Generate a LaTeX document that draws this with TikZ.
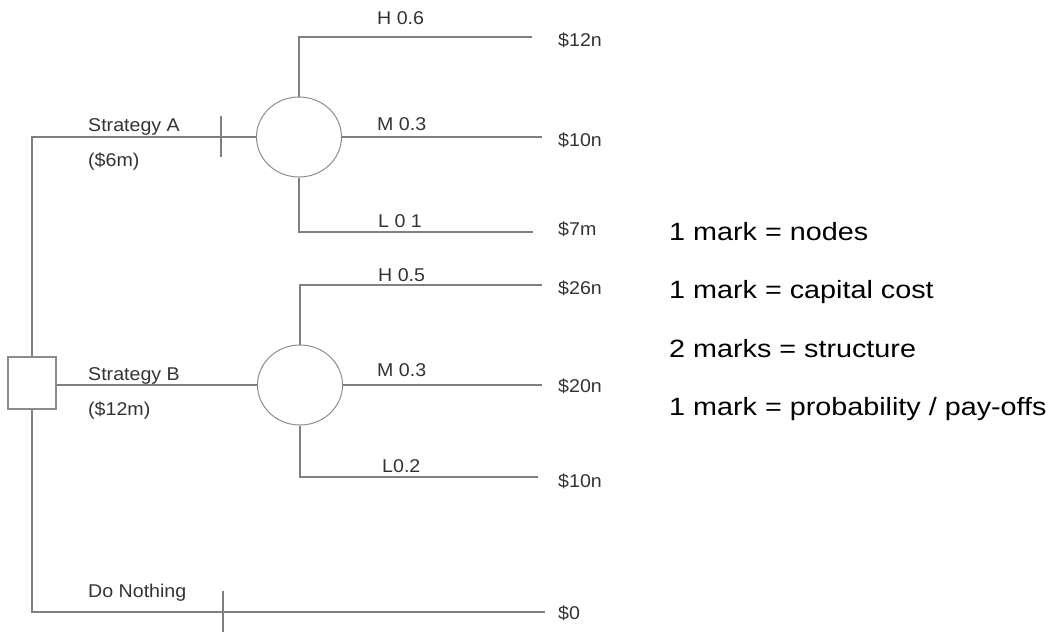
\documentclass[tikz,border=0pt]{standalone}
\usepackage{fontspec}
\setmainfont{Liberation Sans}
\newfontfamily\labfont[FakeStretch=1.06]{Liberation Sans}
\newfontfamily\notefont[FakeStretch=1.15]{Liberation Sans}
\usetikzlibrary{shapes.geometric}
\begin{document}
\begin{tikzpicture}[x=1pt,y=-1pt,
  branch/.style={draw=black!50, line width=1.3pt},
  chance/.style={ellipse, draw=black!45, line width=1pt, minimum width=85pt, minimum height=80pt, inner sep=0pt},
  decision/.style={rectangle, draw=black!45, line width=1.3pt, minimum width=48pt, minimum height=52pt, inner sep=0pt},
  lab/.style={anchor=base west, inner sep=0pt, text=black!80, font=\labfont\fontsize{18.5}{20}\selectfont},
  note/.style={anchor=base west, inner sep=0pt, text=black, font=\notefont\fontsize{25}{28}\selectfont}]
\useasboundingbox (0,0) rectangle (1059,632);

% nodes
\node[decision] (dec) at (32,383) {};
\node[chance] (ca) at (299,137) {};
\node[chance] (cb) at (300,385) {};

% branch end points
\coordinate (eAH) at (532,37);
\coordinate (eAM) at (542,137);
\coordinate (eAL) at (533,232);
\coordinate (eBH) at (542,285);
\coordinate (eBM) at (542,385);
\coordinate (eBL) at (538,477);
\coordinate (eN) at (545,612);
\coordinate (tA) at (221,137);
\coordinate (tN) at (223,612);

% connectors
\draw[branch] (dec.north) |- (ca.west);
\draw[branch] (dec.east |- cb.west) -- (cb.west);
\draw[branch] (dec.south) |- (eN);
\draw[branch] (ca.north) |- (eAH);
\draw[branch] (ca.east) -- (eAM);
\draw[branch] (ca.south) |- (eAL);
\draw[branch] (cb.north) |- (eBH);
\draw[branch] (cb.east) -- (eBM);
\draw[branch] (cb.south) |- (eBL);
% ticks
\draw[branch] (tA) ++(0,-21) -- ++(0,41);
\draw[branch] (tN) ++(0,-21) -- ++(0,41);

% branch labels
\node[lab] (sA) at (88,131) {Strategy A};
\node[lab] (cA) at (88,166) {(\$6m)};
\node[lab] (sB) at (88,380) {Strategy B};
\node[lab] (cB) at (88,415) {(\$12m)};
\node[lab] (sN) at (88,597) {Do Nothing};
\node[lab] (lAH) at (377,24) {H 0.6};
\node[lab] (lAM) at (377,130) {M 0.3};
\node[lab] (lAL) at (378,227) {L 0 1};
\node[lab] (lBH) at (378,281) {H 0.5};
\node[lab] (lBM) at (377,376) {M 0.3};
\node[lab] (lBL) at (382,472) {L0.2};

% pay-offs
\node[lab] (p1) at (558,46.6) {\$12n};
\node[lab] (p2) at (558,146.6) {\$10n};
\node[lab] (p3) at (558,235.6) {\$7m};
\node[lab] (p4) at (558,294.6) {\$26n};
\node[lab] (p5) at (558,392.6) {\$20n};
\node[lab] (p6) at (558,487.6) {\$10n};
\node[lab] (p7) at (558,619.6) {\$0};

% marking notes
\node[note] (n1) at (669,240) {1 mark = nodes};
\node[note] (n2) at (669,298) {1 mark = capital cost};
\node[note] (n3) at (669,357) {2 marks = structure};
\node[note] (n4) at (669,415) {1 mark = probability / pay-offs};
\end{tikzpicture}
\end{document}
